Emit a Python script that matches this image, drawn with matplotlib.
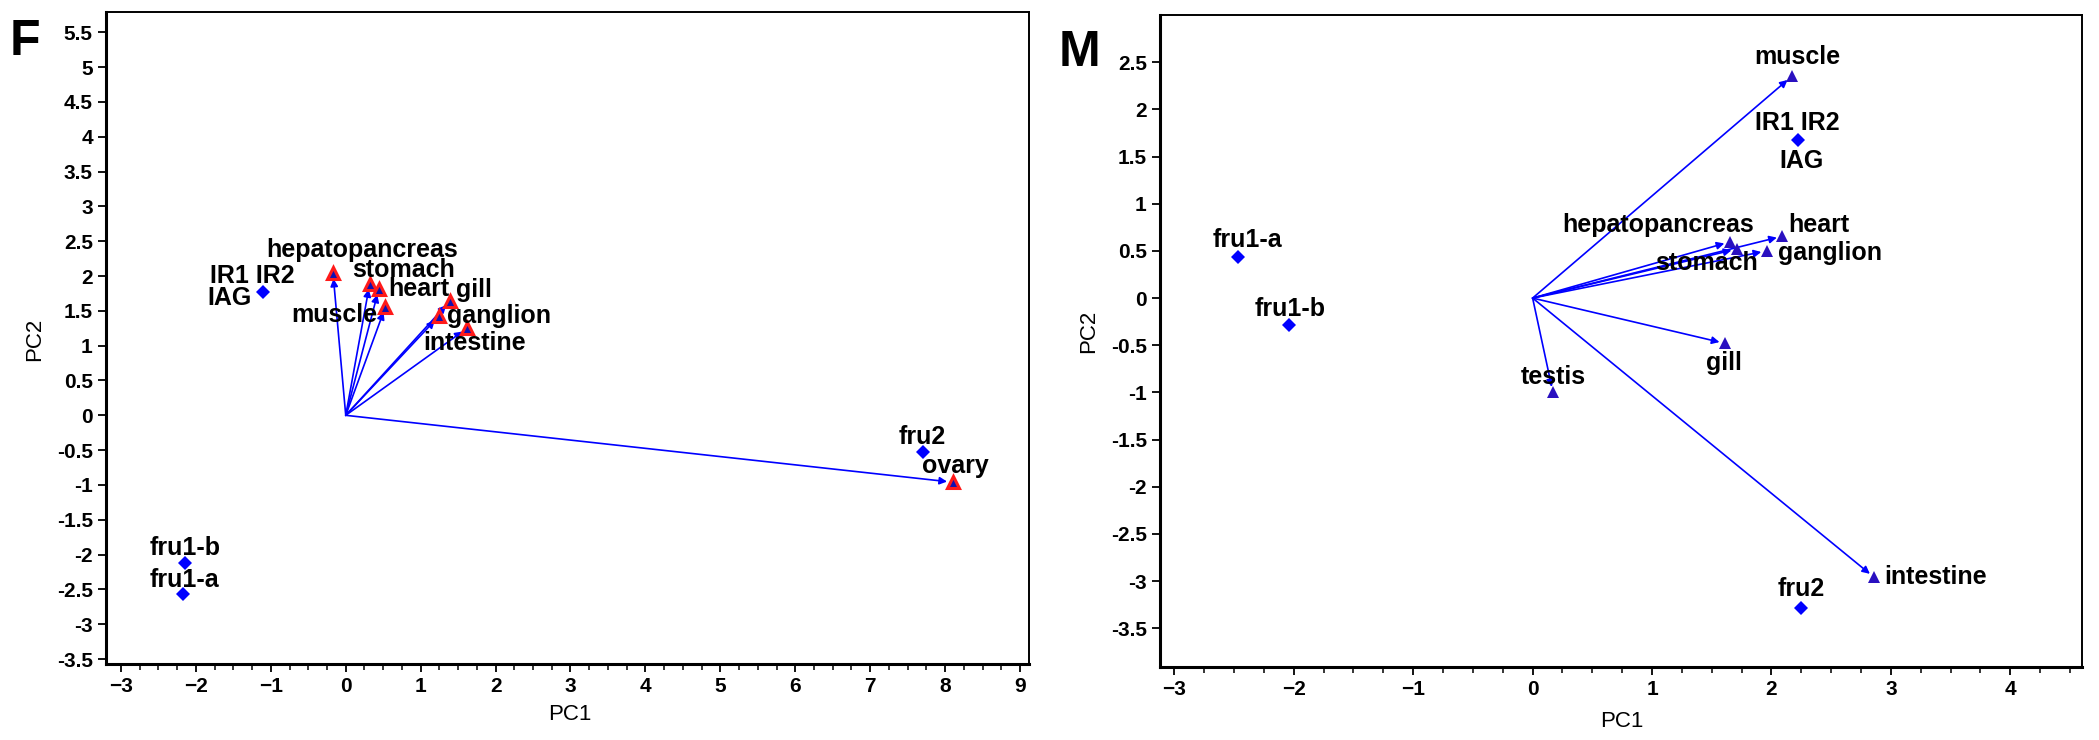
import matplotlib
matplotlib.use('Agg')
import matplotlib.pyplot as plt
from matplotlib.ticker import MultipleLocator
import matplotlib.transforms as mtransforms

plt.rcParams['font.family'] = ['Liberation Sans', 'DejaVu Sans']

# Panel F (female): tissue loadings (triangles) and gene scores (diamonds)
fTissues = ['hepatopancreas', 'stomach', 'heart', 'muscle', 'gill', 'ganglion', 'intestine', 'ovary']
fTissueX = [-0.17, 0.32, 0.44, 0.53, 1.39, 1.24, 1.62, 8.10]
fTissueY = [2.04, 1.89, 1.81, 1.56, 1.64, 1.42, 1.25, -0.96]
fGenes = ['IR1 IR2\nIAG', 'fru1-b', 'fru1-a', 'fru2']
fGeneX = [-1.11, -2.14, -2.17, 7.70]
fGeneY = [1.77, -2.12, -2.57, -0.53]

# Panel M (male)
mTissues = ['muscle', 'hepatopancreas', 'stomach', 'heart', 'ganglion', 'gill', 'testis', 'intestine']
mTissueX = [2.17, 1.65, 1.71, 2.09, 1.96, 1.61, 0.17, 2.86]
mTissueY = [2.35, 0.595, 0.52, 0.655, 0.50, -0.48, -1.00, -2.96]
mGenes = ['IR1 IR2\nIAG', 'fru1-a', 'fru1-b', 'fru2']
mGeneX = [2.22, -2.47, -2.04, 2.25]
mGeneY = [1.68, 0.44, -0.29, -3.28]

# label placement: (dx px, dy px upward, ha)
fLabelPos = {
    'hepatopancreas': (29, 16, 'center'), 'stomach': (34, 7, 'center'),
    'heart': (10, -7, 'left'), 'muscle': (-8, -15, 'right'),
    'gill': (6, 4, 'left'), 'ganglion': (8, -7, 'left'),
    'intestine': (7, -22, 'center'), 'ovary': (3, 9, 'center'),
    'fru1-b': (0, 8, 'center'), 'fru1-a': (1, 7, 'center'), 'fru2': (0, 8, 'center'),
}
mLabelPos = {
    'muscle': (6, 12, 'center'), 'hepatopancreas': (24, 10, 'right'),
    'stomach': (21, -21, 'right'), 'heart': (6, 4, 'left'),
    'ganglion': (11, -9, 'left'), 'gill': (-1, -27, 'center'),
    'testis': (0, 8, 'center'), 'intestine': (10, -7, 'left'),
    'fru1-a': (10, 10, 'center'), 'fru1-b': (1, 9, 'center'), 'fru2': (0, 12, 'center'),
}

blue = '#0000ff'
labelSize = 18


def label(ax, text, x, y, dx, dy, ha):
    ax.annotate(text, (x, y), xytext=(dx, dy), textcoords='offset pixels',
                ha=ha, va='baseline', fontsize=labelSize, fontweight='bold', zorder=6)


def drawPanel(ax, tissues, tx, ty, genes, gx, gy, labelPos, male):
    for name, x, y in zip(tissues, tx, ty):
        ax.annotate('', xy=(x, y), xytext=(0, 0),
                    arrowprops=dict(arrowstyle='-|>', color=blue, lw=1.2,
                                    mutation_scale=11, shrinkA=0, shrinkB=4), zorder=3)
    if male:
        shifted = mtransforms.offset_copy(ax.transData, fig=ax.figure, x=0, y=-1, units='dots')
        ax.plot(tx, ty, '^', color='#ff2020', ms=7.5, mew=0, transform=shifted, zorder=4)
        ax.plot(tx, ty, '^', color='#2a10c0', ms=8, mew=0, zorder=5)
    else:
        ax.plot(tx, ty, '^', mfc='#1010b0', mec='#ff1a1a', ms=9, mew=2.2, zorder=5)
    ax.plot(gx, gy, 'D', color=blue, ms=7.5, mew=0, zorder=5)

    for name, x, y in zip(tissues, tx, ty):
        dx, dy, ha = labelPos[name]
        label(ax, name, x, y, dx, dy, ha)
    for name, x, y in zip(genes, gx, gy):
        if name.startswith('IR1'):
            if male:
                label(ax, 'IR1 IR2', x, y, 0, 10, 'center')
                label(ax, 'IAG', x, y, 4, -28, 'center')
            else:
                label(ax, 'IR1 IR2', x, y, 32, 9, 'right')
                label(ax, 'IAG', x, y, -11, -13, 'right')
        else:
            dx, dy, ha = labelPos[name]
            label(ax, name, x, y, dx, dy, ha)

    ax.xaxis.set_minor_locator(MultipleLocator(0.25))
    ax.yaxis.set_major_locator(MultipleLocator(0.5))
    ax.xaxis.set_major_locator(MultipleLocator(1))
    ax.tick_params(which='major', length=6, width=1.3, direction='out', labelsize=15)
    ax.tick_params(which='minor', length=4, width=1.1, direction='out')
    ax.tick_params(axis='y', which='minor', left=False)
    for side in ['left', 'bottom']:
        ax.spines[side].set_linewidth(2.2)
    for side in ['top', 'right']:
        ax.spines[side].set_linewidth(1.4)
    ax.set_xlabel('PC1', fontsize=16, va='center')
    ax.set_ylabel('PC2', fontsize=16, va='center')


fig = plt.figure(figsize=(20.99, 7.40), dpi=100)
axF = fig.add_axes([106 / 2099, 76 / 740, 923 / 2099, 652 / 740])
axM = fig.add_axes([1160 / 2099, 73 / 740, 922 / 2099, 652 / 740])

drawPanel(axF, fTissues, fTissueX, fTissueY, fGenes, fGeneX, fGeneY, fLabelPos, False)
axF.set_xlim(-3.2, 9.12)
axF.set_ylim(-3.57, 5.79)
axF.set_xticks(range(-3, 10))
axF.set_yticks([v / 2 for v in range(-7, 12)])
axF.set_yticklabels(['%g' % (v / 2) for v in range(-7, 12)])
axF.xaxis.set_label_coords(0.502, -0.078)
axF.yaxis.set_label_coords(-0.077, 0.498)

drawPanel(axM, mTissues, mTissueX, mTissueY, mGenes, mGeneX, mGeneY, mLabelPos, True)
axM.set_xlim(-3.12, 4.6)
axM.set_ylim(-3.91, 3.0)
axM.set_xticks(range(-3, 5))
axM.set_yticks([v / 2 for v in range(-7, 6)])
axM.set_yticklabels(['%g' % (v / 2) for v in range(-7, 6)])
axM.xaxis.set_label_coords(0.501, -0.083)
axM.yaxis.set_label_coords(-0.0775, 0.514)

for ax in (axF, axM):
    for t in ax.get_xticklabels() + ax.get_yticklabels():
        t.set_fontweight('bold')

fig.text(10 / 2099, 1 - 55 / 740, 'F', fontsize=36, fontweight='bold', va='baseline')
fig.text(1059 / 2099, 1 - 66 / 740, 'M', fontsize=36, fontweight='bold', va='baseline')

fig.savefig('out.png', dpi=100)
